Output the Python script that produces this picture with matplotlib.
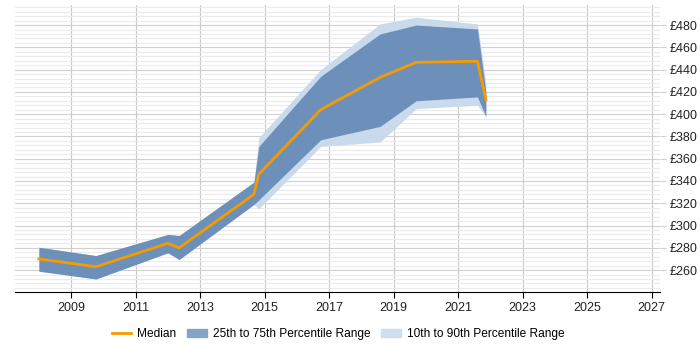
import numpy as np
import matplotlib.pyplot as plt
from matplotlib.ticker import MultipleLocator
from matplotlib.patches import Patch
from matplotlib.lines import Line2D

plt.rcParams['font.family'] = ['Liberation Sans', 'DejaVu Sans']

# time points (decimal years)
years = [2008.0, 2009.77, 2012.0, 2012.35, 2014.67, 2014.82, 2016.74, 2018.58, 2019.70, 2021.6, 2021.86]
median = [270, 263, 284, 280, 328, 346, 404, 433, 446.5, 447.5, 413]
p25 = [259, 252, 275.5, 269.5, 319, 323, 377, 389, 412, 415.5, 398]
p75 = [280.5, 273, 292, 291, 339, 371, 434, 472, 480, 476.5, 420]
p10 = [259, 252, 275.5, 269.5, 319, 315, 371, 375, 405, 408, 398]
p90 = [280.5, 273, 292, 291, 339, 379, 440, 481, 487, 481, 428]

xticks = [2009, 2011, 2013, 2015, 2017, 2019, 2021, 2023, 2025, 2027]

dark = '#6c90ba'
light = '#c8daeb'
orange = '#f59b00'

fig = plt.figure(figsize=(7, 3.5), dpi=100)
ax = fig.add_axes([15/700, 1 - 292/350, 645/700, 287/350])

ax.fill_between(years, p10, p90, color=light, lw=0)
ax.fill_between(years, p25, p75, color=dark, lw=0)
ax.plot(years, median, color=orange, lw=2)

ax.set_xlim(2007.26, 2027.26)
ax.set_ylim(240.3, 498)
ax.set_xticks(xticks)
ax.set_xticklabels([str(y) for y in xticks])
ax.yaxis.set_minor_locator(MultipleLocator(4))
ax.set_yticks(range(260, 481, 20))
ax.set_yticklabels(['£%d' % v for v in range(260, 481, 20)])
ax.yaxis.tick_right()

ax.grid(axis='x', color='#c8c8c8', lw=0.8)
ax.grid(axis='y', which='major', color='#d0d0d0', lw=0.8)
ax.grid(axis='y', which='minor', color='#ebebeb', lw=0.8)
ax.set_axisbelow(True)
for s in ['left', 'right', 'top']:
    ax.spines[s].set_visible(False)
ax.spines['bottom'].set_color('black')
ax.tick_params(axis='y', which='major', length=4, color='#d0d0d0', pad=3, labelsize=9, labelcolor='#222222')
ax.tick_params(axis='y', which='minor', length=0)
ax.tick_params(axis='x', length=4, labelsize=9, labelcolor='#222222')

handles = [Line2D([0], [0], color=orange, lw=2),
           Patch(color='#84a4c7'), Patch(color='#cfdfee')]
labels = ['Median', '25th to 75th Percentile Range', '10th to 90th Percentile Range']
fig.legend(handles, labels, loc='center', bbox_to_anchor=(338/700, 1 - 334/350), ncol=3,
           frameon=False, fontsize=8.6, handlelength=1.65, handletextpad=0.5,
           columnspacing=0.9)

fig.savefig('out.png', dpi=100)
